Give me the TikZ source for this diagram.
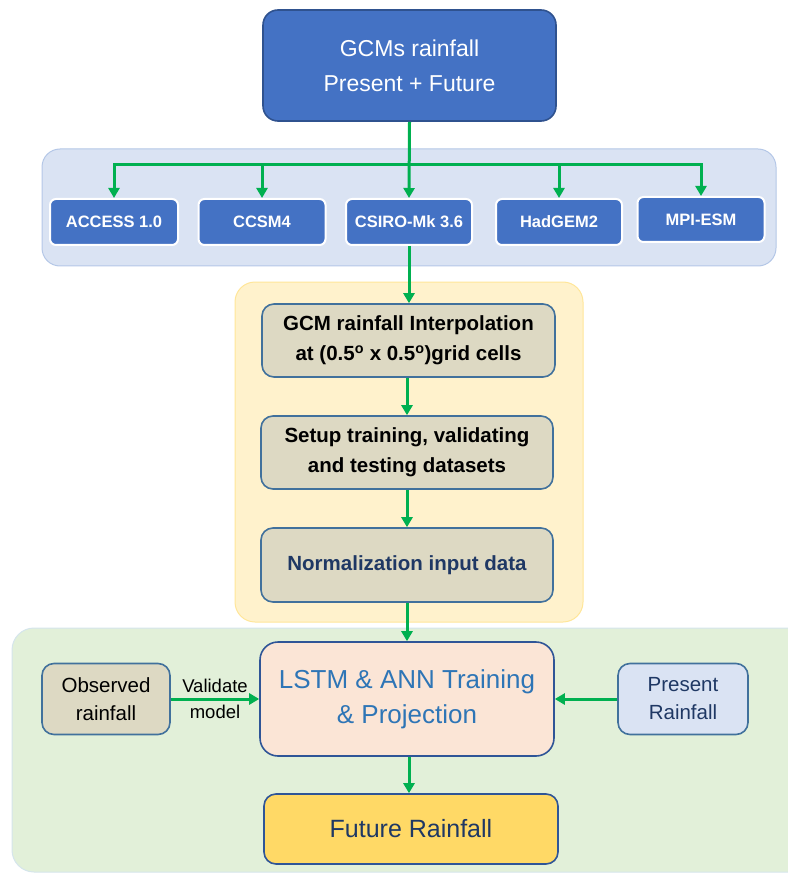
\documentclass[tikz,border=0pt]{standalone}
\usepackage{fontspec}
\setmainfont{Liberation Sans}
\usetikzlibrary{arrows.meta}

\definecolor{gcmblue}{HTML}{4472C4}
\definecolor{gcmedge}{HTML}{2F528F}
\definecolor{panelblue}{HTML}{DAE3F3}
\definecolor{paneledge}{HTML}{B4C7E7}
\definecolor{panelyellow}{HTML}{FFF2CC}
\definecolor{yellowedge}{HTML}{FFE699}
\definecolor{panelgreen}{HTML}{E2F0D9}
\definecolor{greenedge}{HTML}{D5E5EC}
\definecolor{stepfill}{HTML}{DDD9C3}
\definecolor{stepedge}{HTML}{41719C}
\definecolor{navyedge}{HTML}{2F5597}
\definecolor{navytext}{HTML}{1F3864}
\definecolor{lstmfill}{HTML}{FBE5D6}
\definecolor{lstmtext}{HTML}{2E75B6}
\definecolor{futurefill}{HTML}{FFD966}
\definecolor{flowgreen}{HTML}{00B050}

\tikzset{
  panel/.style={rounded corners=18pt, line width=1pt},
  box/.style={rectangle, align=center, inner sep=0pt, line width=1.6pt},
  headbox/.style={box, fill=gcmblue, draw=gcmedge, rounded corners=15pt,
    text=white, font=\fontsize{23}{35}\selectfont},
  modelbox/.style={box, fill=gcmblue, draw=white, line width=2pt, rounded corners=6pt,
    text=white, minimum height=46pt, font=\bfseries\fontsize{16.5}{19}\selectfont},
  stepbox/.style={box, fill=stepfill, draw=stepedge, rounded corners=12pt,
    minimum width=292pt, minimum height=73pt, font=\bfseries\fontsize{20.5}{30}\selectfont},
  sidebox/.style={box, draw=stepedge, rounded corners=12pt,
    minimum width=129pt, minimum height=71pt, font=\fontsize{20.5}{28}\selectfont},
  flow/.style={draw=flowgreen, line width=3pt, -{Triangle[length=10pt,width=11pt]}},
  link/.style={draw=flowgreen, line width=3pt}
}

\begin{document}
\begin{tikzpicture}[x=1pt,y=-1pt]
\useasboundingbox (0,0) rectangle (787,874);

% background panels
\draw[panel, fill=panelblue, draw=paneledge] (42,149) rectangle (776,266);
\draw[panel, fill=panelyellow, draw=yellowedge, rounded corners=20pt] (235,282) rectangle (583,622);
\draw[panel, fill=panelgreen, draw=greenedge, rounded corners=22pt] (12,628) rectangle (810,872);

% GCM source
\node[headbox, minimum width=293pt, minimum height=111pt] (gcm) at (409.5,65.5)
  {GCMs rainfall\\Present + Future};

% individual models
\node[modelbox, minimum width=128pt] (access) at (114,222) {ACCESS 1.0};
\node[modelbox, minimum width=127pt] (ccsm) at (262,222) {CCSM4};
\node[modelbox, minimum width=126pt] (csiro) at (409,222) {CSIRO-Mk 3.6};
\node[modelbox, minimum width=126pt] (hadgem) at (559,222) {HadGEM2};
\node[modelbox, minimum width=127pt, minimum height=45pt] (mpi) at (701,219.5) {MPI-ESM};
\coordinate (bar) at (409,165);

% preprocessing steps
\node[stepbox, minimum width=293pt] (interp) at (408.5,340.5)
  {GCM rainfall Interpolation\\at (0.5\textsuperscript{o} x 0.5\textsuperscript{o})grid cells};
\node[stepbox] (setup) at (407,452.5)
  {Setup training, validating\\and testing datasets};
\node[stepbox, minimum height=74pt, text=navytext] (norm) at (407,565)
  {Normalization input data};

% modelling stage
\node[box, fill=lstmfill, draw=navyedge, rounded corners=18pt, minimum width=294pt,
  minimum height=114pt, text=lstmtext, font=\fontsize{26}{35}\selectfont] (lstm) at (407,699)
  {LSTM \& ANN Training\\\& Projection};
\node[sidebox, fill=stepfill, minimum width=128pt] (obs) at (106,699) {Observed\\rainfall};
\node[sidebox, fill=panelblue, minimum width=130pt, text=navytext] (pres) at (683,699)
  {Present\\Rainfall};
\node[box, fill=futurefill, draw=navyedge, rounded corners=12pt, minimum width=294pt,
  minimum height=70pt, text=navytext, font=\fontsize{25}{30}\selectfont] (future) at (411,829)
  {Future Rainfall};

% connectors
\draw[flow] (gcm.south) -- (csiro.north);
\draw[flow] (bar) -| (access.north);
\draw[flow] (bar) -| (ccsm.north);
\draw[flow] (bar) -| (hadgem.north);
\draw[flow] (bar) -| (mpi.north);
\draw[flow] (csiro.south) -- (csiro.south |- interp.north);
\draw[flow] (interp.south -| setup.north) -- (setup.north);
\draw[flow] (setup.south) -- (norm.north);
\draw[flow] (norm.south) -- (lstm.north);
\draw[flow] (obs.east) -- (lstm.west)
  node[midway, text=black, align=center, font=\fontsize{18.5}{26}\selectfont] (validate)
  {Validate\\model};
\draw[flow] (pres.west) -- (lstm.east);
\draw[flow] (lstm.south -| 409,0) -- (future.north -| 409,0);
\end{tikzpicture}
\end{document}
